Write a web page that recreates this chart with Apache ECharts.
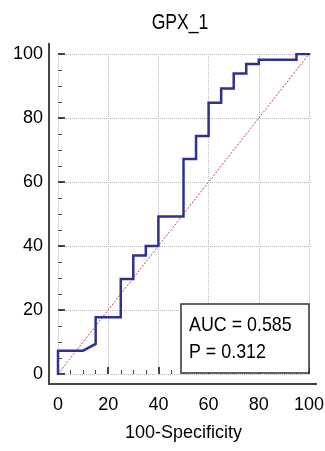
<!DOCTYPE html>
<html>
<head>
<meta charset="utf-8">
<script src="https://cdn.jsdelivr.net/npm/echarts@6/dist/echarts.min.js"></script>
<style>
html,body{margin:0;padding:0;background:#fff;}
#c{width:325px;height:451px;}
</style>
</head>
<body>
<div id="c"></div>
<script>
// ROC curve vertices (100-Specificity, Sensitivity)
const fpr = [0,0,10,10,15,15,25,25,30,30,35,35,40,40,50,50,55,55,60,60,65,65,70,70,75,75,80,80,95,95,100];
const tpr = [0,7.3,7.3,7.9,9.4,17.7,17.7,29.7,29.7,37,37,40,40,49.2,49.2,67.2,67.2,74.4,74.4,84.8,84.8,89.2,89.2,93.9,93.9,96.9,96.9,98.2,98.2,100,100];
const refX = [0, 100];
const refY = [0, 100];
const chartTitle = 'GPX_1';
const xName = '100-Specificity';
const statLines = ['AUC = 0.585', 'P = 0.312'];

const sans = '"Liberation Sans",Arial,sans-serif';

const chart = echarts.init(document.getElementById('c'), null, {renderer: 'canvas'});

const axisCommon = {
  type: 'value', min: 0, max: 100, interval: 20,
  axisLine: {show: false},
  axisTick: {show: true, inside: true, length: 7, lineStyle: {color: '#444', width: 2}},
  minorTick: {show: true, splitNumber: 4, length: 4, lineStyle: {color: '#444', width: 1}},
  splitLine: {show: true, lineStyle: {color: '#b8b8b8', width: 1, type: 'dotted'}},
  axisLabel: {color: '#000', fontSize: 18, fontFamily: sans}
};

chart.setOption({
  animation: false,
  backgroundColor: '#fff',
  grid: {left: 58, right: 16, top: 54, bottom: 77, containLabel: false, outerBoundsMode: 'none'},
  xAxis: Object.assign({}, axisCommon, {
    offset: 10,
    name: xName, nameLocation: 'middle', nameGap: 40,
    nameTextStyle: {color: '#000', fontSize: 18, fontFamily: sans},
    axisLabel: Object.assign({}, axisCommon.axisLabel, {margin: 12})
  }),
  yAxis: Object.assign({}, axisCommon, {
    offset: 9,
    axisLabel: Object.assign({}, axisCommon.axisLabel, {margin: 6})
  }),
  series: [
    {type: 'line', data: refX.map((x, i) => [x, refY[i]]), symbol: 'none', silent: true,
     lineStyle: {color: '#c0404a', width: 1, type: [2, 1.5]}, z: 2},
    {type: 'line', data: fpr.map((x, i) => [x, tpr[i]]), symbol: 'none', silent: true,
     lineStyle: {color: '#2e3192', width: 2.5, join: 'miter', cap: 'square'}, z: 3}
  ]
});

const p0 = chart.convertToPixel({gridIndex: 0}, [0, 0]);
const p1 = chart.convertToPixel({gridIndex: 0}, [100, 100]);
const xLineY = p0[1] + 10;
const yLineX = p0[0] - 9;
chart.setOption({
  graphic: [
    {type: 'line', shape: {x1: yLineX - 1, y1: xLineY, x2: p1[0] + 8, y2: xLineY},
     style: {stroke: '#444', lineWidth: 2}, z: 10},
    {type: 'line', shape: {x1: yLineX, y1: p1[1] - 11, x2: yLineX, y2: xLineY + 1},
     style: {stroke: '#444', lineWidth: 2}, z: 10},
    // title (condensed look)
    {type: 'text', x: 180, y: 23, scaleX: 0.8, z: 20,
     style: {text: chartTitle, fontSize: 22, fontFamily: sans, fill: '#000',
             align: 'center', verticalAlign: 'middle'}},
    // statistics box
    {type: 'rect', shape: {x: 181, y: 304, width: 128, height: 69}, z: 20,
     style: {fill: '#fff', stroke: '#333', lineWidth: 1.5}},
    {type: 'text', x: 189, y: 325, scaleX: 0.85, z: 21,
     style: {text: statLines[0], fontSize: 21, fontFamily: sans, fill: '#000',
             align: 'left', verticalAlign: 'middle'}},
    {type: 'text', x: 189, y: 352, scaleX: 0.85, z: 21,
     style: {text: statLines[1], fontSize: 21, fontFamily: sans, fill: '#000',
             align: 'left', verticalAlign: 'middle'}}
  ]
});
</script>
</body>
</html>
